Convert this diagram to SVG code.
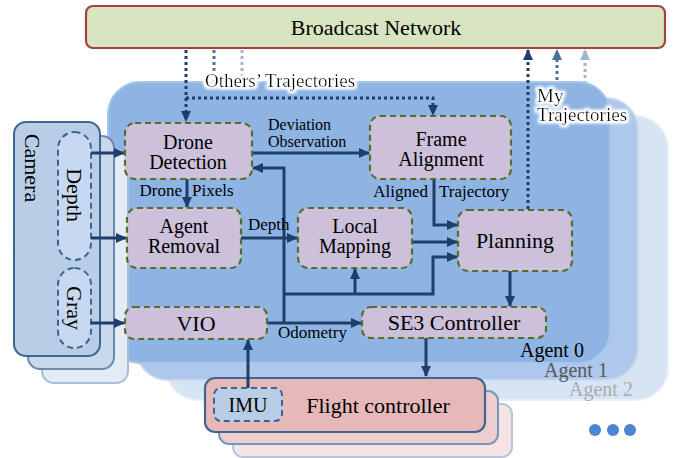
<svg xmlns="http://www.w3.org/2000/svg" width="678" height="458" viewBox="0 0 678 458" font-family="'Liberation Serif', serif">
<style>
text{font-family:'Liberation Serif','Times New Roman',serif;fill:#000}
.node{fill:#ccc0da;stroke:#5b6b2a;stroke-width:2.2;stroke-dasharray:6 4}
.nl{font-size:20px;text-anchor:middle}
.cl{font-size:17px}
.halo{font-size:19px;filter:url(#glow)}
.conn{fill:none;stroke:#1f3f6b;stroke-width:3}
.dot{fill:none;stroke-width:3;stroke-dasharray:3 3}
.oval{fill:#c6d9f1;stroke:#3d6491;stroke-width:2;stroke-dasharray:6 4}
</style>
<defs>
<marker id="ah" markerUnits="userSpaceOnUse" markerWidth="12" markerHeight="10" refX="10" refY="5" orient="auto"><path d="M0,0 L11,5 L0,10 Z" fill="#1f3f6b"/></marker>
<marker id="ahm" markerUnits="userSpaceOnUse" markerWidth="12" markerHeight="10" refX="10" refY="5" orient="auto"><path d="M0,0 L11,5 L0,10 Z" fill="#4e6f97"/></marker>
<marker id="ahl" markerUnits="userSpaceOnUse" markerWidth="12" markerHeight="10" refX="10" refY="5" orient="auto"><path d="M0,0 L11,5 L0,10 Z" fill="#a3b6cf"/></marker>
<linearGradient id="fade" x1="0" y1="0" x2="0" y2="1"><stop offset="0" stop-color="#1f3f6b"/><stop offset="0.5" stop-color="#b8cde8"/><stop offset="1" stop-color="#1f3f6b"/></linearGradient>
<filter id="glow" x="-10%" y="-40%" width="120%" height="180%">
<feMorphology in="SourceAlpha" operator="dilate" radius="1.5" result="d"/>
<feGaussianBlur in="d" stdDeviation="1.6" result="b"/>
<feFlood flood-color="#ffffff"/>
<feComposite in2="b" operator="in" result="w"/>
<feMerge><feMergeNode in="w"/><feMergeNode in="w"/><feMergeNode in="SourceGraphic"/></feMerge>
</filter>
</defs>

<!-- Broadcast Network -->
<g id="broadcast">
<rect x="86" y="6" width="579" height="42" rx="7" fill="#d8e4bf" stroke="#a04343" stroke-width="2.2"/>
<text x="376" y="35" font-size="22" text-anchor="middle">Broadcast Network</text>
</g>

<!-- other agents' dotted links (behind panels) -->
<g id="bg-links">
<line class="dot" x1="214" y1="50" x2="214" y2="100" stroke="#4e6f97"/>
<line class="dot" x1="242" y1="50" x2="242" y2="100" stroke="#a3b6cf"/>
<line class="dot" x1="557" y1="110" x2="557" y2="50" stroke="#4e6f97" marker-end="url(#ahm)"/>
<line class="dot" x1="585" y1="120" x2="585" y2="50" stroke="#a3b6cf" marker-end="url(#ahl)"/>
</g>

<!-- Agent panels -->
<g id="agent2"><rect x="166" y="116" width="502" height="284" rx="32" fill="#d7e4f4" stroke="#e8f0fa" stroke-width="2"/></g>
<g id="agent1"><rect x="136" y="98" width="502" height="282" rx="32" fill="#adc8eb" stroke="#c8daf1" stroke-width="2"/></g>
<g id="agent0"><rect x="108" y="82" width="502" height="281" rx="32" fill="#8eb4e3" stroke="#a8c6ec" stroke-width="2"/></g>
<text x="520" y="357" font-size="20">Agent 0</text>
<text x="544" y="377" font-size="20" style="fill:#585858">Agent 1</text>
<text x="569" y="396" font-size="20" style="fill:#ababab">Agent 2</text>

<!-- Camera stack -->
<g id="camera">
<rect x="42" y="150" width="86" height="233" rx="12" fill="#e3ebf5" stroke="#aabdd6" stroke-width="2"/>
<rect x="28" y="136" width="86" height="233" rx="12" fill="#c9d9ec" stroke="#6c8ab0" stroke-width="2"/>
<rect x="14" y="122" width="86" height="234" rx="12" fill="#b9cee6" stroke="#3f6592" stroke-width="2"/>
<text transform="translate(25,168) rotate(90)" font-size="22" text-anchor="middle">Camera</text>
</g>
<g id="depth">
<rect class="oval" x="58" y="132" width="33" height="128" rx="16.5"/>
<text transform="translate(67,195) rotate(90)" font-size="22" text-anchor="middle">Depth</text>
</g>
<g id="gray">
<rect class="oval" x="58" y="268" width="33" height="80" rx="16.5"/>
<text transform="translate(67,308) rotate(90)" font-size="22" text-anchor="middle">Gray</text>
</g>

<!-- Flight controller stack -->
<g id="flight-controller">
<rect x="233" y="404" width="279" height="53" rx="10" fill="#f6e4e4" stroke="#b5c6dc" stroke-width="2"/>
<rect x="219" y="391" width="279" height="53" rx="10" fill="#eecfcf" stroke="#7a95bb" stroke-width="2"/>
<rect x="205" y="378" width="280" height="54" rx="10" fill="#e6b8b7" stroke="#3f6592" stroke-width="2.2"/>
<text x="378" y="413" font-size="22" text-anchor="middle">Flight controller</text>
</g>
<g id="imu">
<rect x="214" y="388" width="68" height="33" rx="7" fill="#b9cee6" stroke="#3d6491" stroke-width="2" stroke-dasharray="6 4"/>
<text x="248" y="412" font-size="20" text-anchor="middle">IMU</text>
</g>

<!-- Connectors -->
<g id="connectors">
<line class="conn" x1="91" y1="153" x2="124" y2="153" marker-end="url(#ah)"/>
<line class="conn" x1="91" y1="238" x2="126" y2="238" marker-end="url(#ah)"/>
<line class="conn" x1="91" y1="323" x2="124" y2="323" marker-end="url(#ah)"/>
<line class="conn" x1="187" y1="179" x2="187" y2="207" marker-end="url(#ah)"/>
<line class="conn" x1="251" y1="153" x2="369" y2="153" marker-end="url(#ah)"/>
<polyline class="conn" points="284,323 284,168 253,168" marker-end="url(#ah)"/>
<line x1="284" y1="205" x2="284" y2="275" stroke="url(#fade)" stroke-width="3"/>
<line class="conn" x1="241" y1="238" x2="297" y2="238" marker-end="url(#ah)"/>
<line class="conn" x1="267" y1="323" x2="361" y2="323" marker-end="url(#ah)"/>
<polyline class="conn" points="284,294 433,294 433,257 457,257" marker-end="url(#ah)"/>
<line class="conn" x1="355" y1="294" x2="355" y2="269" marker-end="url(#ah)"/>
<line class="conn" x1="412" y1="242" x2="457" y2="242" marker-end="url(#ah)"/>
<polyline class="conn" points="434,179 434,225 457,225" marker-end="url(#ah)"/>
<line class="conn" x1="510" y1="271" x2="510" y2="306" marker-end="url(#ah)"/>
<line class="conn" x1="426" y1="338" x2="426" y2="376" marker-end="url(#ah)"/>
<line class="conn" x1="248" y1="388" x2="248" y2="340" marker-end="url(#ah)"/>
<line class="dot" x1="186" y1="50" x2="186" y2="121" stroke="#1f3f6b" marker-end="url(#ah)"/>
<polyline class="dot" points="186,98 433,98 433,115" stroke="#1f3f6b" marker-end="url(#ah)"/>
<line class="dot" x1="528" y1="209" x2="528" y2="50" stroke="#1f3f6b" marker-end="url(#ah)"/>
</g>

<!-- connector labels -->
<text class="halo" x="205" y="87">Others’ Trajectories</text>
<text class="halo" x="537" y="102">My</text>
<text class="halo" x="537" y="121">Trajectories</text>
<text class="cl" x="268" y="130" style="font-size:16px">Deviation</text>
<text class="cl" x="268" y="147" style="font-size:16px">Observation</text>
<text class="cl" x="182" y="196" text-anchor="end">Drone</text>
<text class="cl" x="192" y="196">Pixels</text>
<text class="cl" x="248" y="230">Depth</text>
<text class="cl" x="428" y="197" text-anchor="end">Aligned</text>
<text class="cl" x="439" y="197">Trajectory</text>
<text class="cl" x="278" y="338">Odometry</text>

<!-- Nodes -->
<g id="drone-detection">
<rect class="node" x="125" y="123" width="127" height="56" rx="10"/>
<text class="nl" x="188" y="149">Drone</text>
<text class="nl" x="188" y="169">Detection</text>
</g>
<g id="agent-removal">
<rect class="node" x="127" y="208" width="114" height="60" rx="10"/>
<text class="nl" x="184" y="233">Agent</text>
<text class="nl" x="184" y="253">Removal</text>
</g>
<g id="local-mapping">
<rect class="node" x="298" y="208" width="114" height="60" rx="10"/>
<text class="nl" x="355" y="233">Local</text>
<text class="nl" x="355" y="253">Mapping</text>
</g>
<g id="frame-alignment">
<rect class="node" x="370" y="116" width="141" height="63" rx="10"/>
<text class="nl" x="441" y="146">Frame</text>
<text class="nl" x="441" y="166">Alignment</text>
</g>
<g id="planning">
<rect class="node" x="458" y="210" width="114" height="61" rx="10"/>
<text class="nl" x="515" y="248" style="font-size:22px">Planning</text>
</g>
<g id="vio">
<rect class="node" x="125" y="307" width="142" height="32" rx="9"/>
<text class="nl" x="196" y="331" style="font-size:22px">VIO</text>
</g>
<g id="se3-controller">
<rect class="node" x="362" y="307" width="184" height="31" rx="9"/>
<text class="nl" x="454" y="330" style="font-size:22px">SE3 Controller</text>
</g>

<!-- more agents -->
<g id="more">
<circle cx="595" cy="430" r="6" fill="#4a86d1"/>
<circle cx="613" cy="430" r="6" fill="#4a86d1"/>
<circle cx="630" cy="430" r="6" fill="#4a86d1"/>
</g>
</svg>
